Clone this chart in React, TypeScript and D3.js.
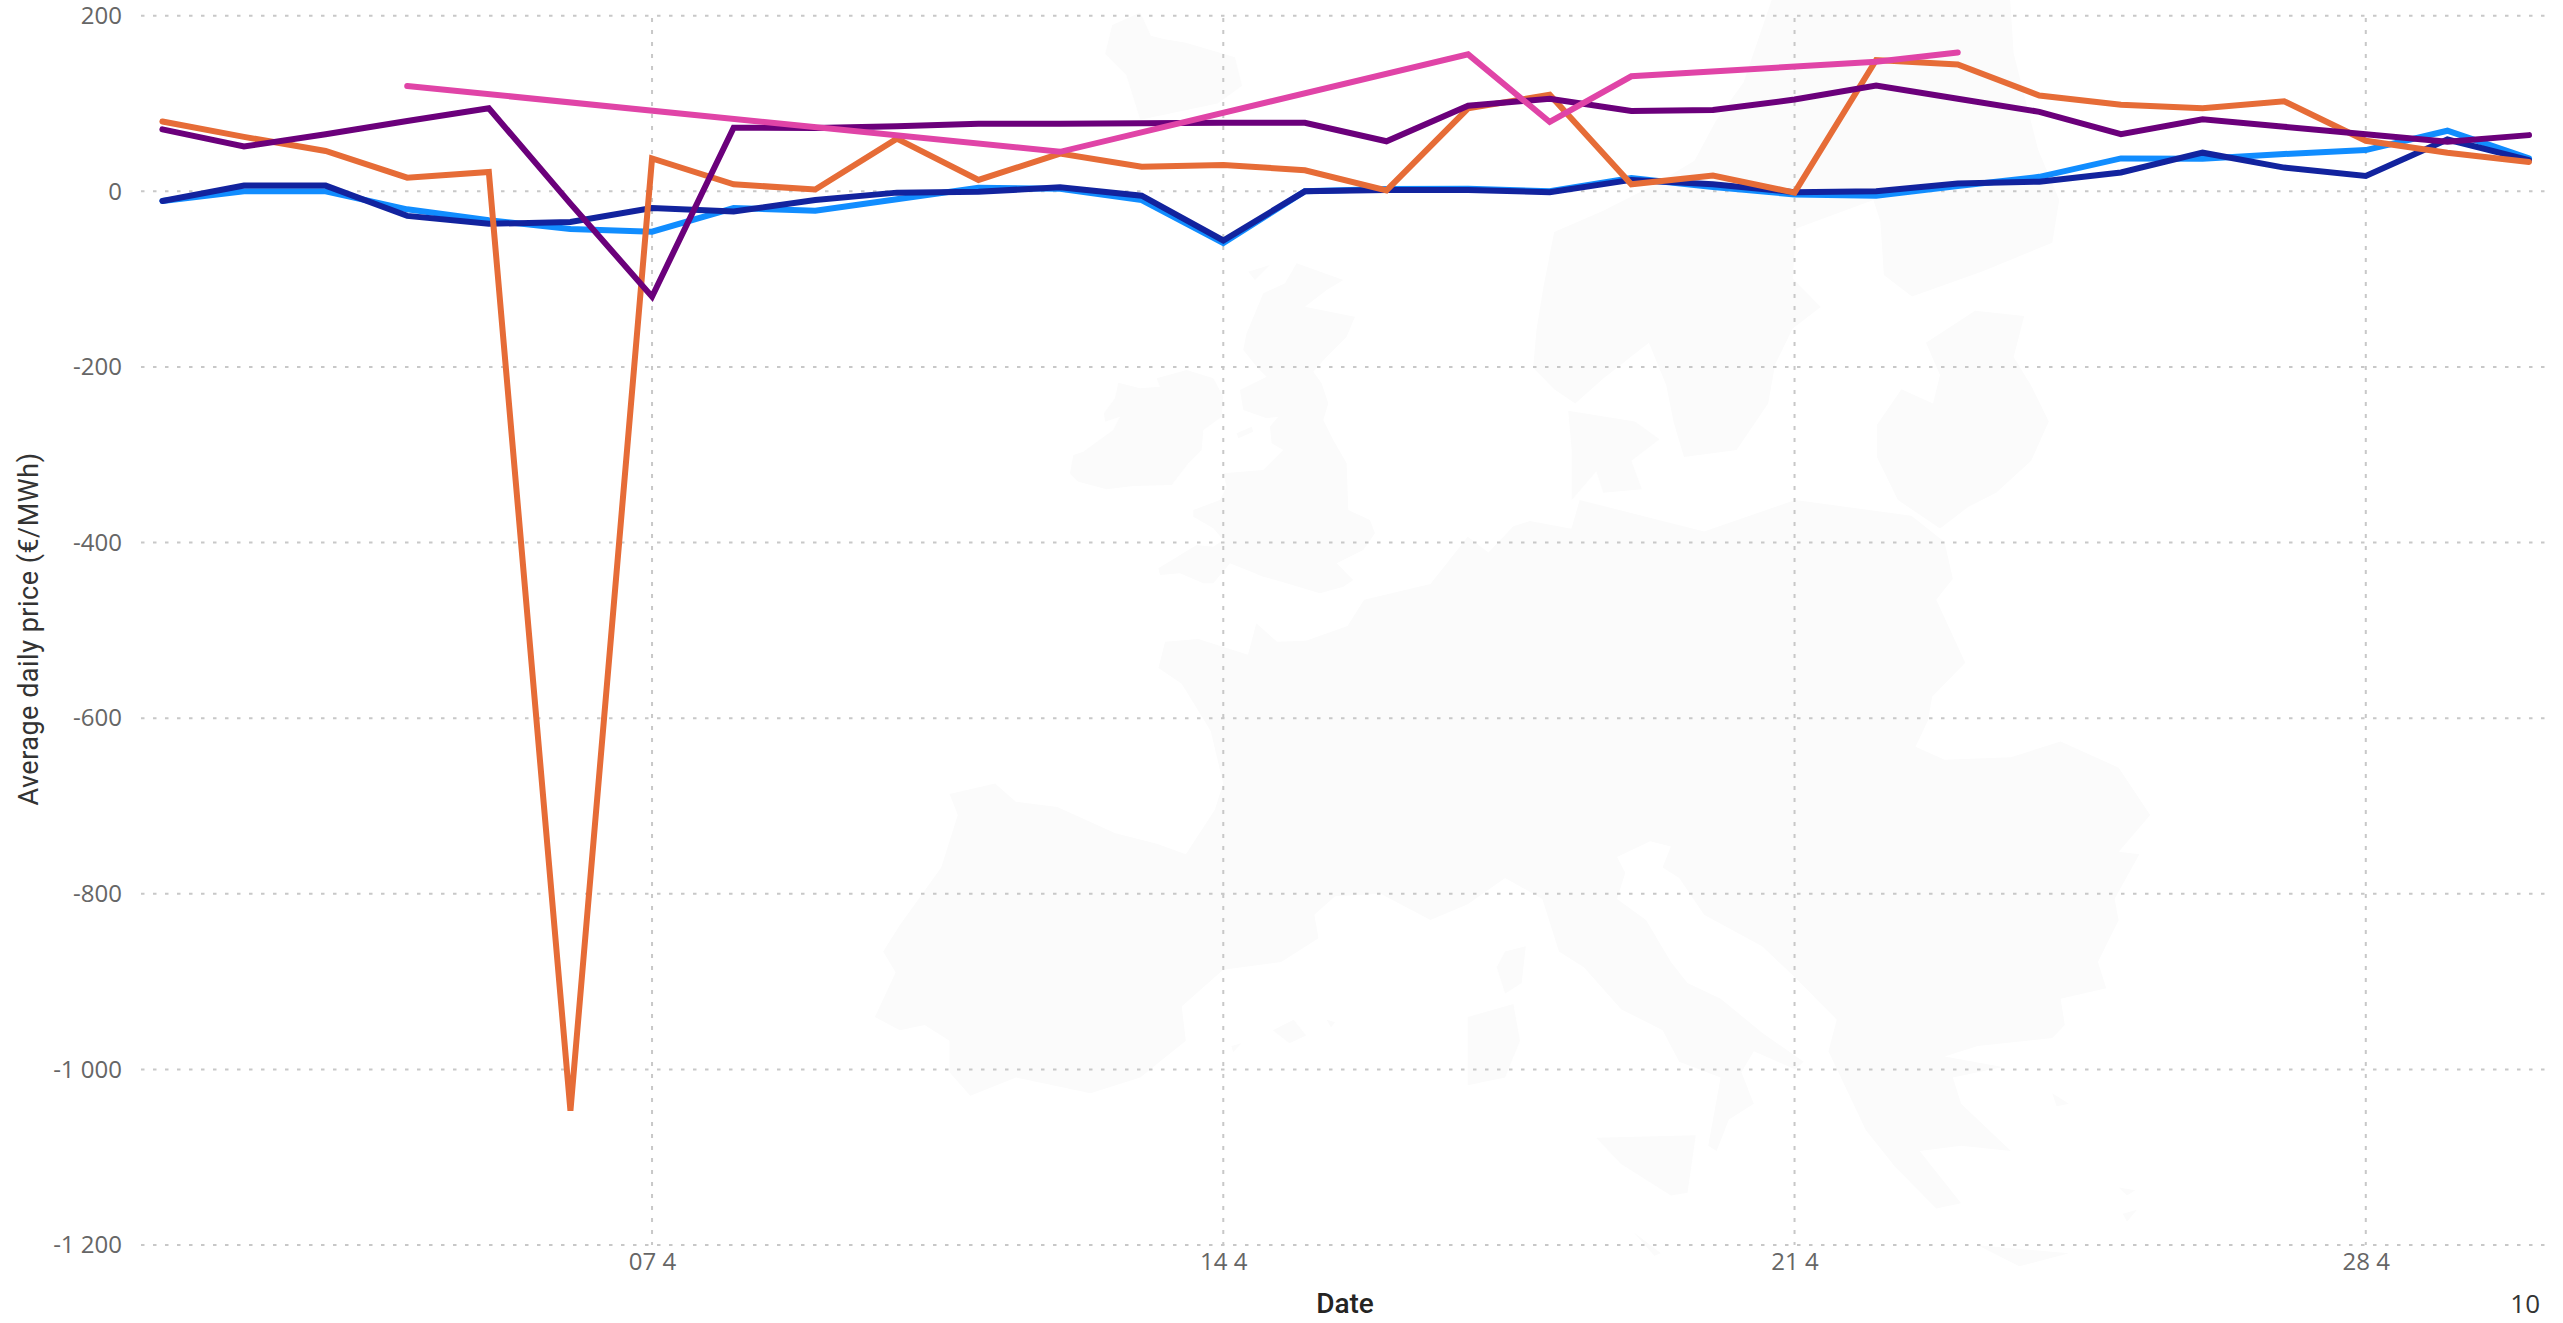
import React, { useEffect, useRef } from 'react';
import * as d3 from 'd3';

const width = 2563;
const height = 1323;

// days of April 2024 that have a value
const days = d3.range(1, 31);

const lightBlue = [-11, 0, 0, -20.5, -33, -43, -46, -19, -22, -9, 4, 3, -10, -59, 0, 2.5, 3, 0, 15, 5, -3.5, -5, 6, 16.5, 37.5, 37, 42.5, 47, 69, 37.5];
const darkBlue = [-11, 6.5, 6.5, -28, -37, -35, -19, -23, -10, -1.5, -0.5, 4.5, -5, -56, 0, 1.5, 1.5, -1, 13, 8, -1, 0, 9, 11, 21.5, 44, 27, 17.5, 59, 35.5];
const orange = [79.5, 62, 46, 15.5, 22, -1047, 37.5, 8, 2, 60, 13, 43, 28, 30, 24, 1, 94.5, 110, 8, 18, -1.5, 149.5, 144.5, 109, 98.5, 94.5, 102.5, 57.5, 44, 33.5];
const purple = [70.5, 51, 65, 80, 94.5, -14, -120, 72.5, 72, 74, 77, 77, 77.5, 78, 78, 57, 97.5, 105.5, 91.5, 92.5, 104.5, 120.5, 105.5, 90.5, 65, 82, 73.5, 65, 56.5, 64];

// pink only has a few days, the line just joins them
const pinkDays = [4, 12, 17, 18, 19, 22, 23];
const pink = [120, 45, 156, 79, 131, 147.5, 158];

const yTicks = [200, 0, -200, -400, -600, -800, -1000, -1200];
const xTickDays = [7, 14, 21, 28];

const colors = {
  lightBlue: '#118DFF',
  darkBlue: '#12239E',
  orange: '#E66C37',
  purple: '#6B007B',
  pink: '#E044A7',
};

// faint europe silhouette behind the plot, traced by hand
const britain = [[890, 190], [1030, 240], [980, 270], [915, 320], [1065, 350], [1040, 410], [980, 470], [940, 515], [965, 550], [985, 610], [970, 660], [1000, 720], [1040, 790], [1045, 930], [1110, 960], [1125, 1000], [1090, 1050], [1010, 1090], [1060, 1140], [1030, 1160], [960, 1180], [860, 1150], [790, 1130], [690, 1090], [640, 1150], [610, 1150], [540, 1120], [480, 1125], [475, 1105], [590, 1035], [640, 1040], [670, 1020], [640, 985], [580, 950], [580, 930], [660, 900], [680, 860], [670, 820], [790, 810], [850, 750], [815, 730], [810, 680], [835, 650], [800, 655], [730, 630], [720, 570], [800, 530], [770, 500], [730, 450], [740, 400], [765, 340], [790, 280], [855, 250]];
const ireland = [[355, 548], [420, 565], [480, 560], [470, 535], [560, 510], [640, 535], [670, 590], [665, 650], [610, 690], [605, 750], [565, 790], [515, 855], [400, 858], [320, 868], [235, 845], [210, 820], [220, 765], [250, 755], [340, 690], [360, 650], [315, 665], [312, 640], [345, 595]];
const isleOfMan = [[710, 700], [755, 680], [760, 695], [715, 715]];
const hebrides = [[745, 215], [810, 195], [765, 240]];

const scandinavia = [[1100, 0], [1440, 0], [1445, 150], [1480, 420], [1510, 560], [1500, 680], [1400, 760], [1300, 830], [1260, 770], [1255, 620], [1245, 560], [1135, 640], [1130, 780], [1170, 860], [1130, 920], [1105, 1020], [1095, 1130], [1050, 1260], [975, 1280], [960, 1180], [950, 1080], [925, 960], [860, 1060], [820, 1130], [790, 1090], [760, 1030], [765, 920], [775, 800], [790, 650], [860, 590], [930, 520], [990, 450], [1020, 340], [1060, 230]];
const denmark = [[810, 1150], [905, 1180], [940, 1230], [900, 1290], [915, 1370], [860, 1380], [850, 1320], [815, 1400], [815, 1260]];
const baltics = [[1390, 870], [1460, 885], [1445, 1000], [1470, 1080], [1495, 1180], [1470, 1290], [1420, 1380], [1380, 1420], [1340, 1480], [1280, 1400], [1250, 1280], [1250, 1190], [1285, 1090], [1330, 1130], [1340, 1050], [1320, 960]];
const iceland = [[160, 70], [200, 35], [215, 100], [235, 110], [265, 120], [335, 160], [345, 240], [310, 290], [200, 335], [180, 210], [150, 150]];

const continent = [[620, 190], [700, 160], [745, 70], [770, 100], [800, 50], [820, 40], [870, 55], [880, 0], [1030, 60], [1140, 0], [1280, 30], [1320, 80], [1330, 150], [1310, 190], [1345, 310], [1305, 375], [1300, 420], [1285, 470], [1320, 495], [1400, 490], [1460, 460], [1530, 510], [1568, 600], [1530, 670], [1555, 675], [1525, 760], [1530, 800], [1505, 880], [1515, 930], [1460, 950], [1465, 1000], [1450, 1025], [1360, 1040], [1320, 1060], [1390, 1080], [1330, 1100], [1340, 1150], [1400, 1240], [1340, 1230], [1290, 1240], [1340, 1340], [1310, 1350], [1260, 1270], [1225, 1200], [1180, 1050], [1190, 990], [1140, 910], [1100, 850], [1030, 790], [1000, 720], [980, 700], [990, 660], [965, 650], [925, 680], [935, 710], [925, 760], [960, 800], [990, 880], [1010, 920], [1050, 950], [1100, 1015], [1150, 1070], [1140, 1085], [1090, 1050], [1075, 1090], [1090, 1150], [1060, 1180], [1045, 1240], [1035, 1230], [1050, 1100], [1000, 1070], [980, 1010], [930, 970], [885, 890], [855, 860], [835, 760], [790, 720], [745, 770], [700, 800], [640, 750], [585, 755], [560, 790], [565, 835], [520, 880], [450, 895], [400, 965], [405, 1030], [350, 1100], [290, 1130], [200, 1100], [145, 1135], [120, 1090], [120, 1030], [90, 1000], [60, 1010], [30, 985], [55, 900], [40, 860], [60, 810], [110, 700], [130, 600], [120, 560], [175, 540], [200, 575], [250, 585], [320, 635], [370, 655], [405, 675], [440, 590], [450, 540], [435, 440], [400, 350], [372, 320], [380, 270], [420, 265], [480, 295], [490, 235], [515, 270], [550, 268], [600, 240]];
const corsica = [[815, 850], [810, 920], [790, 940], [780, 890], [790, 860]];
const sardinia = [[745, 985], [800, 960], [808, 1030], [790, 1100], [745, 1115]];
const sicily = [[900, 1215], [1020, 1210], [1010, 1320], [990, 1325], [930, 1265]];
const mallorca = [[510, 1010], [535, 990], [550, 1020], [530, 1035]];
const crete = [[1360, 1420], [1470, 1435], [1410, 1460]];
const smallIslands = [[[575, 990], [585, 995], [580, 1005]], [[1450, 1130], [1470, 1150], [1455, 1155]], [[1530, 1310], [1550, 1315], [1540, 1325]], [[1535, 1360], [1552, 1352], [1540, 1375]], [[945, 1395], [978, 1435], [970, 1440]], [[460, 1040], [472, 1035], [462, 1052]]];

const mapGroups = [
  { transform: 'translate(1000,200) scale(0.3333)', shapes: [britain, ireland, isleOfMan, hebrides] },
  { transform: 'translate(1000,0) scale(0.7015,0.3571)', shapes: [scandinavia, denmark, baltics, iceland] },
  { transform: 'translate(850,500) scale(0.8292,0.5249)', shapes: [continent, corsica, sardinia, sicily, mallorca, crete, ...smallIslands] },
];

const x = d3.scaleLinear().domain([1, 30]).range([162.4, 2529]);
const y = d3.scaleLinear().domain([-1200, 200]).range([1245, 15.7]);

const numberFormat = d3.formatLocale({
  decimal: '.',
  thousands: ' ',
  grouping: [3],
  currency: ['', ''],
  minus: '-',
}).format(',');

const lineFor = d3.line<[number, number]>()
  .x(d => x(d[0]))
  .y(d => y(d[1]));

const seriesList = [
  { color: colors.lightBlue, days, values: lightBlue },
  { color: colors.darkBlue, days, values: darkBlue },
  { color: colors.orange, days, values: orange },
  { color: colors.purple, days, values: purple },
  { color: colors.pink, days: pinkDays, values: pink },
];

const App = () => {
  const svgRef = useRef<SVGSVGElement>(null);

  useEffect(() => {
    const svg = d3.select(svgRef.current);
    svg.selectAll('*').remove();

    const map = svg.append('g').attr('fill', '#fbfbfb');
    mapGroups.forEach(group => {
      map.append('g')
        .attr('transform', group.transform)
        .selectAll('path')
        .data(group.shapes)
        .join('path')
        .attr('d', d => `M${d.join('L')}Z`);
    });

    const yAxis = d3.axisLeft(y)
      .tickValues(yTicks)
      .tickSize(0)
      .tickPadding(0)
      .tickFormat(d => numberFormat(d as number));

    svg.append('g')
      .attr('transform', 'translate(122,0)')
      .call(yAxis)
      .call(g => g.select('.domain').remove())
      .selectAll('text')
      .attr('fill', '#666666')
      .attr('font-family', '"Open Sans"')
      .attr('font-size', 24);

    const xAxis = d3.axisBottom(x)
      .tickValues(xTickDays)
      .tickSize(0)
      .tickPadding(0)
      .tickFormat(d => `${String(d).padStart(2, '0')} 4`);

    svg.append('g')
      .attr('transform', 'translate(0,1253)')
      .call(xAxis)
      .call(g => g.select('.domain').remove())
      .selectAll('text')
      .attr('fill', '#666666')
      .attr('font-family', '"Open Sans"')
      .attr('font-size', 24);

    const grid = svg.append('g')
      .attr('stroke', '#c8c8c8')
      .attr('stroke-width', 2);

    grid.selectAll('line.h')
      .data(yTicks)
      .join('line')
      .attr('class', 'h')
      .attr('x1', 141)
      .attr('x2', 2546)
      .attr('y1', d => y(d))
      .attr('y2', d => y(d))
      .attr('stroke-dasharray', '3.5 8.5');

    grid.selectAll('line.v')
      .data(xTickDays)
      .join('line')
      .attr('class', 'v')
      .attr('x1', d => x(d))
      .attr('x2', d => x(d))
      .attr('y1', 18)
      .attr('y2', 1245)
      .attr('stroke-dasharray', '4 8');

    svg.append('g')
      .attr('fill', 'none')
      .attr('stroke-width', 6)
      .attr('stroke-linecap', 'round')
      .attr('stroke-linejoin', 'miter')
      .selectAll('path')
      .data(seriesList)
      .join('path')
      .attr('stroke', d => d.color)
      .attr('d', d => lineFor(d.days.map((day, i) => [day, d.values[i]] as [number, number])));

    svg.append('text')
      .attr('transform', 'translate(38,629) rotate(-90)')
      .attr('text-anchor', 'middle')
      .attr('font-family', 'Roboto')
      .attr('font-size', 27)
      .attr('letter-spacing', 0.5)
      .attr('fill', '#333333')
      .text('Average daily price (€/MWh)');

    svg.append('text')
      .attr('x', 1345)
      .attr('y', 1313)
      .attr('text-anchor', 'middle')
      .attr('font-family', 'Roboto')
      .attr('font-weight', 500)
      .attr('font-size', 28)
      .attr('fill', '#252423')
      .text('Date');

    svg.append('text')
      .attr('x', 2540)
      .attr('y', 1313)
      .attr('text-anchor', 'end')
      .attr('font-family', '"Open Sans"')
      .attr('font-size', 26)
      .attr('fill', '#333333')
      .text('10');
  }, []);

  return (
    <svg
      ref={svgRef}
      width={width}
      height={height}
      style={{ position: 'absolute', top: 0, left: 0, display: 'block', background: '#fff' }}
    />
  );
};

export default App;
